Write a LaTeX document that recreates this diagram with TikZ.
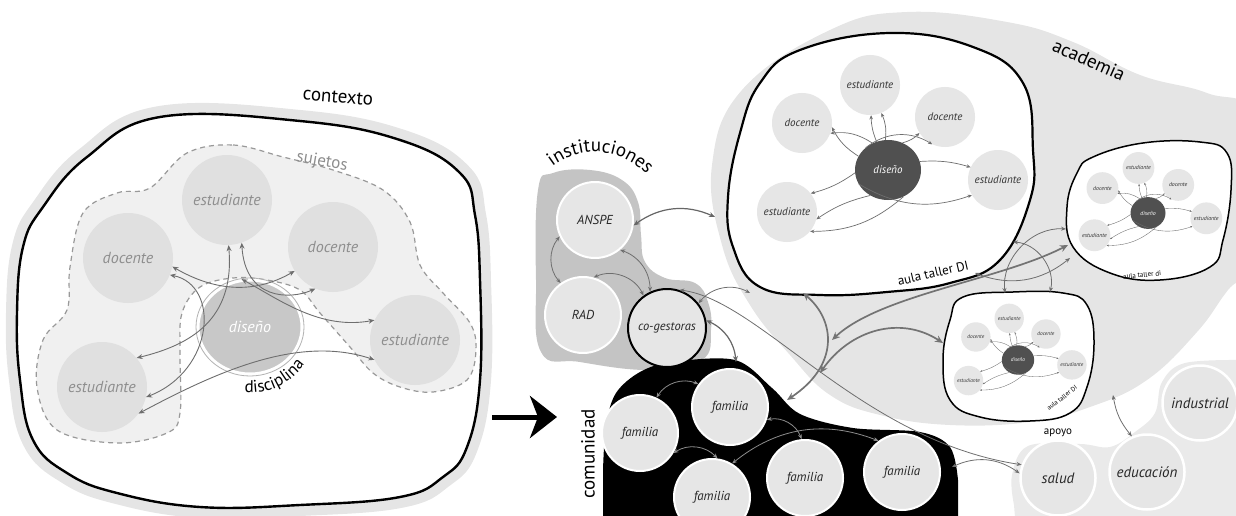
\documentclass[tikz,border=0pt]{standalone}
\usepackage{fontspec}
\setmainfont{PT Sans}
\usetikzlibrary{arrows.meta,shapes.geometric,decorations.text}

\definecolor{bandgray}{HTML}{E5E5E5}
\definecolor{sujgray}{HTML}{F0F0F0}
\definecolor{ctxgray}{HTML}{E0E0E0}
\definecolor{ctxtext}{HTML}{8E8E8E}
\definecolor{disgray}{HTML}{C8C8C8}
\definecolor{instgray}{HTML}{C4C4C4}
\definecolor{nodegray}{HTML}{E6E6E6}
\definecolor{darkdis}{HTML}{505050}
\definecolor{arrowgray}{HTML}{6E6E6E}
\definecolor{apoyogray}{HTML}{EAEAEA}

\newcommand{\aulacluster}[3]{%
  \begin{scope}[shift={#2}, scale=#3, transform shape]
    \node[clnode] (#1et) at (-18,-85) {estudiante};
    \node[clnode] (#1dl) at (-86,-47) {docente};
    \node[clnode] (#1dr) at (57,-53) {docente};
    \node[clnode] (#1er) at (110,10) {estudiante};
    \node[clnode] (#1el) at (-101,42) {estudiante};
    \node[cldis] (#1dis) at (0,0) {diseño};
    \draw[clarrow, line width=#3*0.7pt] (#1dis.155) to[bend left=15] (#1dl.-8);
    \draw[clarrow, line width=#3*0.7pt] (#1dis.120) to[bend right=20] (#1dl.-20);
    \draw[clarrow, line width=#3*0.7pt] (#1dis.112) to[bend left=10] (#1et.-88);
    \draw[clarrow, line width=#3*0.7pt] (#1dis.95) to[bend right=15] (#1et.-68);
    \draw[clarrow, line width=#3*0.7pt] (#1dis.62) to[bend right=15] (#1dr.212);
    \draw[clarrow, line width=#3*0.7pt] (#1dis.135) to[bend left=35] (#1dr.245);
    \draw[clarrow, line width=#3*0.7pt] (#1dis.15) to[bend left=10] (#1er.155);
    \draw[clarrow, line width=#3*0.7pt] (#1dis.205) to[bend right=25] (#1er.210);
    \draw[clarrow, line width=#3*0.7pt] (#1dis.185) to[bend left=10] (#1el.38);
    \draw[clarrow, line width=#3*0.7pt] (#1dis.235) to[bend right=10] (#1el.-14);
    \draw[clarrow, line width=#3*0.7pt] (#1dis.-60) to[bend left=20] (#1el.-40);
  \end{scope}}

\begin{document}
\begin{tikzpicture}[x=1pt, y=-1pt]

        \tikzstyle{ctxnode} = [circle, fill=ctxgray, minimum size=90pt, inner sep=0pt, text=ctxtext, font=\fontsize{16}{18}\selectfont\itshape]
        \tikzstyle{ctxarrow} = [draw=arrowgray, line width=0.9pt, {Stealth[length=6pt,width=5pt]}-{Stealth[length=6pt,width=5pt]}]
        \tikzstyle{rnode} = [circle, fill=nodegray, draw=white, line width=2pt, minimum size=76pt, inner sep=0pt, text=black!85, font=\fontsize{13}{15}\selectfont\itshape]
        \tikzstyle{apnode} = [circle, fill=nodegray, draw=white, line width=2.5pt, minimum size=75pt, inner sep=0pt, text=black!85, font=\fontsize{15}{17}\selectfont\itshape]
        \tikzstyle{clnode} = [circle, fill=nodegray, minimum size=60pt, inner sep=0pt, text=black!80, font=\fontsize{11}{13}\selectfont\itshape]
        \tikzstyle{cldis} = [ellipse, fill=darkdis, minimum width=66pt, minimum height=60pt, inner sep=0pt, text=white, font=\fontsize{11}{13}\selectfont\itshape]
        \tikzstyle{clarrow} = [draw=arrowgray, -{Stealth[length=0pt 6,width=0pt 5]}]
        \tikzstyle{thinarrow} = [draw=arrowgray, line width=0.8pt, {Stealth[length=5pt,width=4pt]}-{Stealth[length=5pt,width=4pt]}]
        \tikzstyle{midarrow} = [draw=black!60, line width=1.2pt, {Stealth[length=6pt,width=5pt]}-{Stealth[length=6pt,width=5pt]}]
        \tikzstyle{thickarrow} = [draw=black!55, line width=1.7pt, {Stealth[length=8pt,width=7pt]}-{Stealth[length=8pt,width=7pt]}]
        \tikzstyle{famarrow} = [draw=black!45, line width=0.8pt, {Stealth[length=5pt,width=4pt]}-{Stealth[length=5pt,width=4pt]}]
        \tikzstyle{blobline} = [draw=black, fill=white, line width=2.2pt]
        \tikzstyle{grouplabel} = [font=\fontsize{19}{21}\selectfont, text=black]

        \useasboundingbox (0,0) rectangle (1236,516);
        \begin{scope}
        \clip (0,0) rectangle (1236,516);

        % contexto
        \draw[blobline, line width=2.4pt, preaction={draw=bandgray, line width=22pt}]
          plot[smooth cycle, tension=0.7] coordinates {(160,117) (300,121) (400,140) (460,173) (475,215) (480,280) (480,380) (467,447) (443,477) (400,497) (300,505) (200,507) (117,493) (67,473) (33,440) (20,380) (17,313) (23,247) (43,207) (87,157)};
        \draw[fill=sujgray, draw=black!40, line width=1.2pt, dash pattern=on 5pt off 4pt]
          plot[smooth cycle, tension=0.6] coordinates {(187,153) (233,145) (283,157) (333,170) (383,190) (410,222) (420,265) (443,293) (470,323) (476,350) (467,380) (433,392) (400,387) (373,373) (350,347) (320,313) (300,290) (267,280) (233,278) (200,287) (182,313) (180,353) (180,413) (167,433) (117,443) (57,430) (37,387) (43,340) (67,310) (70,267) (83,213) (117,193) (150,188)};

        \node[ctxnode] (estT) at (227,200) {estudiante};
        \node[ctxnode] (docL) at (128,258) {docente};
        \node[ctxnode] (docR) at (333,247) {docente};
        \node[ctxnode] (estR) at (415,340) {estudiante};
        \node[ctxnode] (estBL) at (102,387) {estudiante};
        \node[ellipse, fill=disgray, draw=white, line width=3pt, minimum width=104pt, minimum height=94pt, inner sep=0pt, text=white, font=\fontsize{16}{18}\selectfont\itshape] (disL) at (250,327) {diseño};
        \draw[black!30, line width=0.8pt] (disL.center) ellipse[x radius=54, y radius=49];

        \draw[ctxarrow] (docL.-11) to[out=-30, in=-150] (docR.212);
        \draw[ctxarrow] (docL.-22) .. controls (220,285) and (215,370) .. (estBL.-13);
        \draw[ctxarrow] (estT.-88) .. controls (235,320) and (190,345) .. (estBL.40);
        \draw[ctxarrow] (estT.-71) .. controls (245,300) and (290,300) .. (docR.-113);
        \draw[ctxarrow] (disL.100) .. controls (280,300) and (320,330) .. (estR.154);
        \draw[ctxarrow] (estBL.-36) .. controls (220,370) and (300,335) .. (estR.206);

        \node[grouplabel, rotate=-5] (contexto) at (338,97) {contexto};
        \node[grouplabel, text=ctxtext, font=\fontsize{17}{19}\selectfont, rotate=-10] (sujetos) at (322,162) {sujetos};
        \path[decorate, decoration={text along path, text align=center, text={|\fontsize{17}{19}\selectfont|disciplina}}]
          ([shift={(-21.5,62.4)}]disL.center) arc[start angle=109, end angle=20, radius=66];

        % flecha
        \coordinate (arrowS) at (492,417);
        \coordinate (arrowE) at (557,417);
        \draw[line width=5pt, -{Stealth[length=27pt,width=42pt,inset=8pt]}] (arrowS) -- (arrowE);

        % academia, apoyo, instituciones, comunidad
        \fill[bandgray] plot[smooth cycle, tension=0.7] coordinates {(712,165) (742,90) (830,30) (907,12) (1007,22) (1073,42) (1140,75) (1207,93) (1255,120) (1262,250) (1228,290) (1197,332) (1147,380) (1090,407) (1030,422) (950,425) (880,415) (830,395) (790,355) (750,305) (722,245)};
        \fill[apoyogray] (1016,530) -- plot[smooth, tension=0.6] coordinates {(1014,505) (1012,475) (1028,446) (1080,444) (1110,447) (1135,432) (1155,413) (1162,382) (1185,363) (1245,360)} -- (1245,530) -- cycle;
        \fill[instgray] plot[smooth cycle, tension=0.7] coordinates {(538,190) (553,173) (590,170) (622,180) (638,202) (641,235) (645,262) (665,278) (695,283) (708,302) (711,330) (702,360) (650,370) (580,362) (541,352) (536,280)};
        \fill[black] (603,530) -- plot[smooth, tension=0.55] coordinates {(603,470) (606,425) (616,393) (640,372) (672,362) (735,360) (772,388) (800,414) (853,428) (920,432) (950,447) (958,480)} -- (958,530) -- cycle;

        \draw[blobline] plot[smooth cycle, tension=0.7] coordinates {(740,133) (760,83) (800,50) (890,33) (973,47) (1023,83) (1033,150) (1030,200) (1000,260) (950,283) (887,292) (820,295) (760,287) (733,247) (728,197)};
        \draw[blobline, line width=1.5pt] plot[smooth cycle, tension=0.7] coordinates {(963,297) (1013,292) (1063,293) (1087,305) (1094,343) (1087,387) (1070,413) (1030,421) (980,417) (950,400) (943,360) (950,320)};
        \draw[blobline, line width=1.5pt] plot[smooth cycle, tension=0.7] coordinates {(1093,157) (1143,143) (1200,142) (1227,153) (1231,190) (1223,240) (1210,267) (1160,280) (1110,273) (1073,247) (1067,207) (1077,173)};

        \aulacluster{big}{(888,170)}{1}
        \aulacluster{med}{(1018,360)}{0.49}
        \aulacluster{small}{(1148,213)}{0.53}

        \node[rnode] (anspe) at (595,220) {ANSPE};
        \node[rnode] (rad) at (583,315) {RAD};
        \node[rnode, draw=black, line width=2pt, minimum size=78pt, font=\fontsize{12.5}{15}\selectfont\itshape] (cog) at (667,328) {co-gestoras};
        \node[rnode] (fam1) at (640,433) {familia};
        \node[rnode] (fam2) at (730,407) {familia};
        \node[rnode] (fam3) at (712,497) {familia};
        \node[rnode] (fam4) at (805,478) {familia};
        \node[rnode] (fam5) at (902,472) {familia};
        \node[apnode] (salud) at (1058,478) {salud};
        \node[apnode] (edu) at (1147,472) {educación};
        \node[apnode] (ind) at (1200,403) {industrial};

        \coordinate (aulaL) at (715,217);
        \coordinate (bigB) at (803,293);
        \coordinate (bigBR1) at (1013,242);
        \coordinate (bigBR2) at (975,273);
        \coordinate (smallL) at (1068,245);
        \coordinate (smallL1) at (1066,229);
        \coordinate (smallL2) at (1070,258);
        \coordinate (medT1) at (1005,293);
        \coordinate (medT2) at (1050,292);
        \coordinate (medL) at (943,343);
        \coordinate (comTop) at (736,362);
        \coordinate (comTR) at (787,400);
        \coordinate (comR) at (952,467);
        \coordinate (acadB) at (1113,395);
        \coordinate (c1) at (750,293);
        \coordinate (j1) at (832,340);
        \coordinate (j2) at (820,373);

        \draw[thinarrow] (anspe.205) to[bend right=40] (rad.125);
        \draw[thinarrow] (anspe.-50) to[bend left=35] (cog.115);
        \draw[thinarrow] (rad.74) to[bend left=45] (cog.126);
        \draw[midarrow] (anspe.-8) to[bend left=30] (aulaL);
        \draw[thinarrow] (cog.38) to[bend left=40] (c1);
        \draw[midarrow] (cog.11) to[bend left=30] (comTop);
        \draw[thinarrow] (cog.72) .. controls (760,300) and (860,440) .. (salud.160);
        \draw[thinarrow] (comR) to[bend left=30] (salud.173);
        \draw[thinarrow] (edu.113) to[bend left=15] (acadB);

        \draw[famarrow] (fam2.144) to[bend right=40] (fam1.65);
        \draw[famarrow] (fam1.-31) to[bend left=40] (fam3.82);
        \draw[famarrow] (fam2.-19) to[bend left=40] (fam4.95);
        \draw[famarrow] (fam3.59) to[bend left=30] (fam5.127);

        \draw[thickarrow] (bigB) .. controls (835,320) and (840,365) .. (comTR);
        \draw[thickarrow] (smallL) .. controls (1000,280) and (880,295) .. (j1);
        \draw[thickarrow] (medL) .. controls (900,315) and (850,330) .. (j2);
        \draw[thinarrow] (bigBR1) to[bend left=50] (medT2);
        \draw[thinarrow] (smallL1) to[bend right=50] (medT1);
        \draw[thinarrow] (bigBR2) to[bend right=30] (smallL2);

        \path[decorate, decoration={text along path, text align=center, text={|\fontsize{19}{21}\selectfont|instituciones}}]
          (541.4,177) arc[start angle=220, end angle=330, radius=70];
        \node[grouplabel, rotate=90] (comunidad) at (588,454) {comunidad};
        \node[grouplabel, rotate=-24] (academia) at (1089,60) {academia};
        \node[font=\fontsize{13}{15}\selectfont, rotate=13] (aulabig) at (933,273) {aula taller DI};
        \node[font=\fontsize{6.5}{8}\selectfont, rotate=38] (aulamed) at (1062,398) {aula taller DI};
        \node[font=\fontsize{7}{8}\selectfont, rotate=5] (aulasmall) at (1142,275) {aula taller di};
        \node[font=\fontsize{11}{13}\selectfont] (apoyo) at (1058,433) {apoyo};

        \end{scope}

    \end{tikzpicture}
\end{document}
